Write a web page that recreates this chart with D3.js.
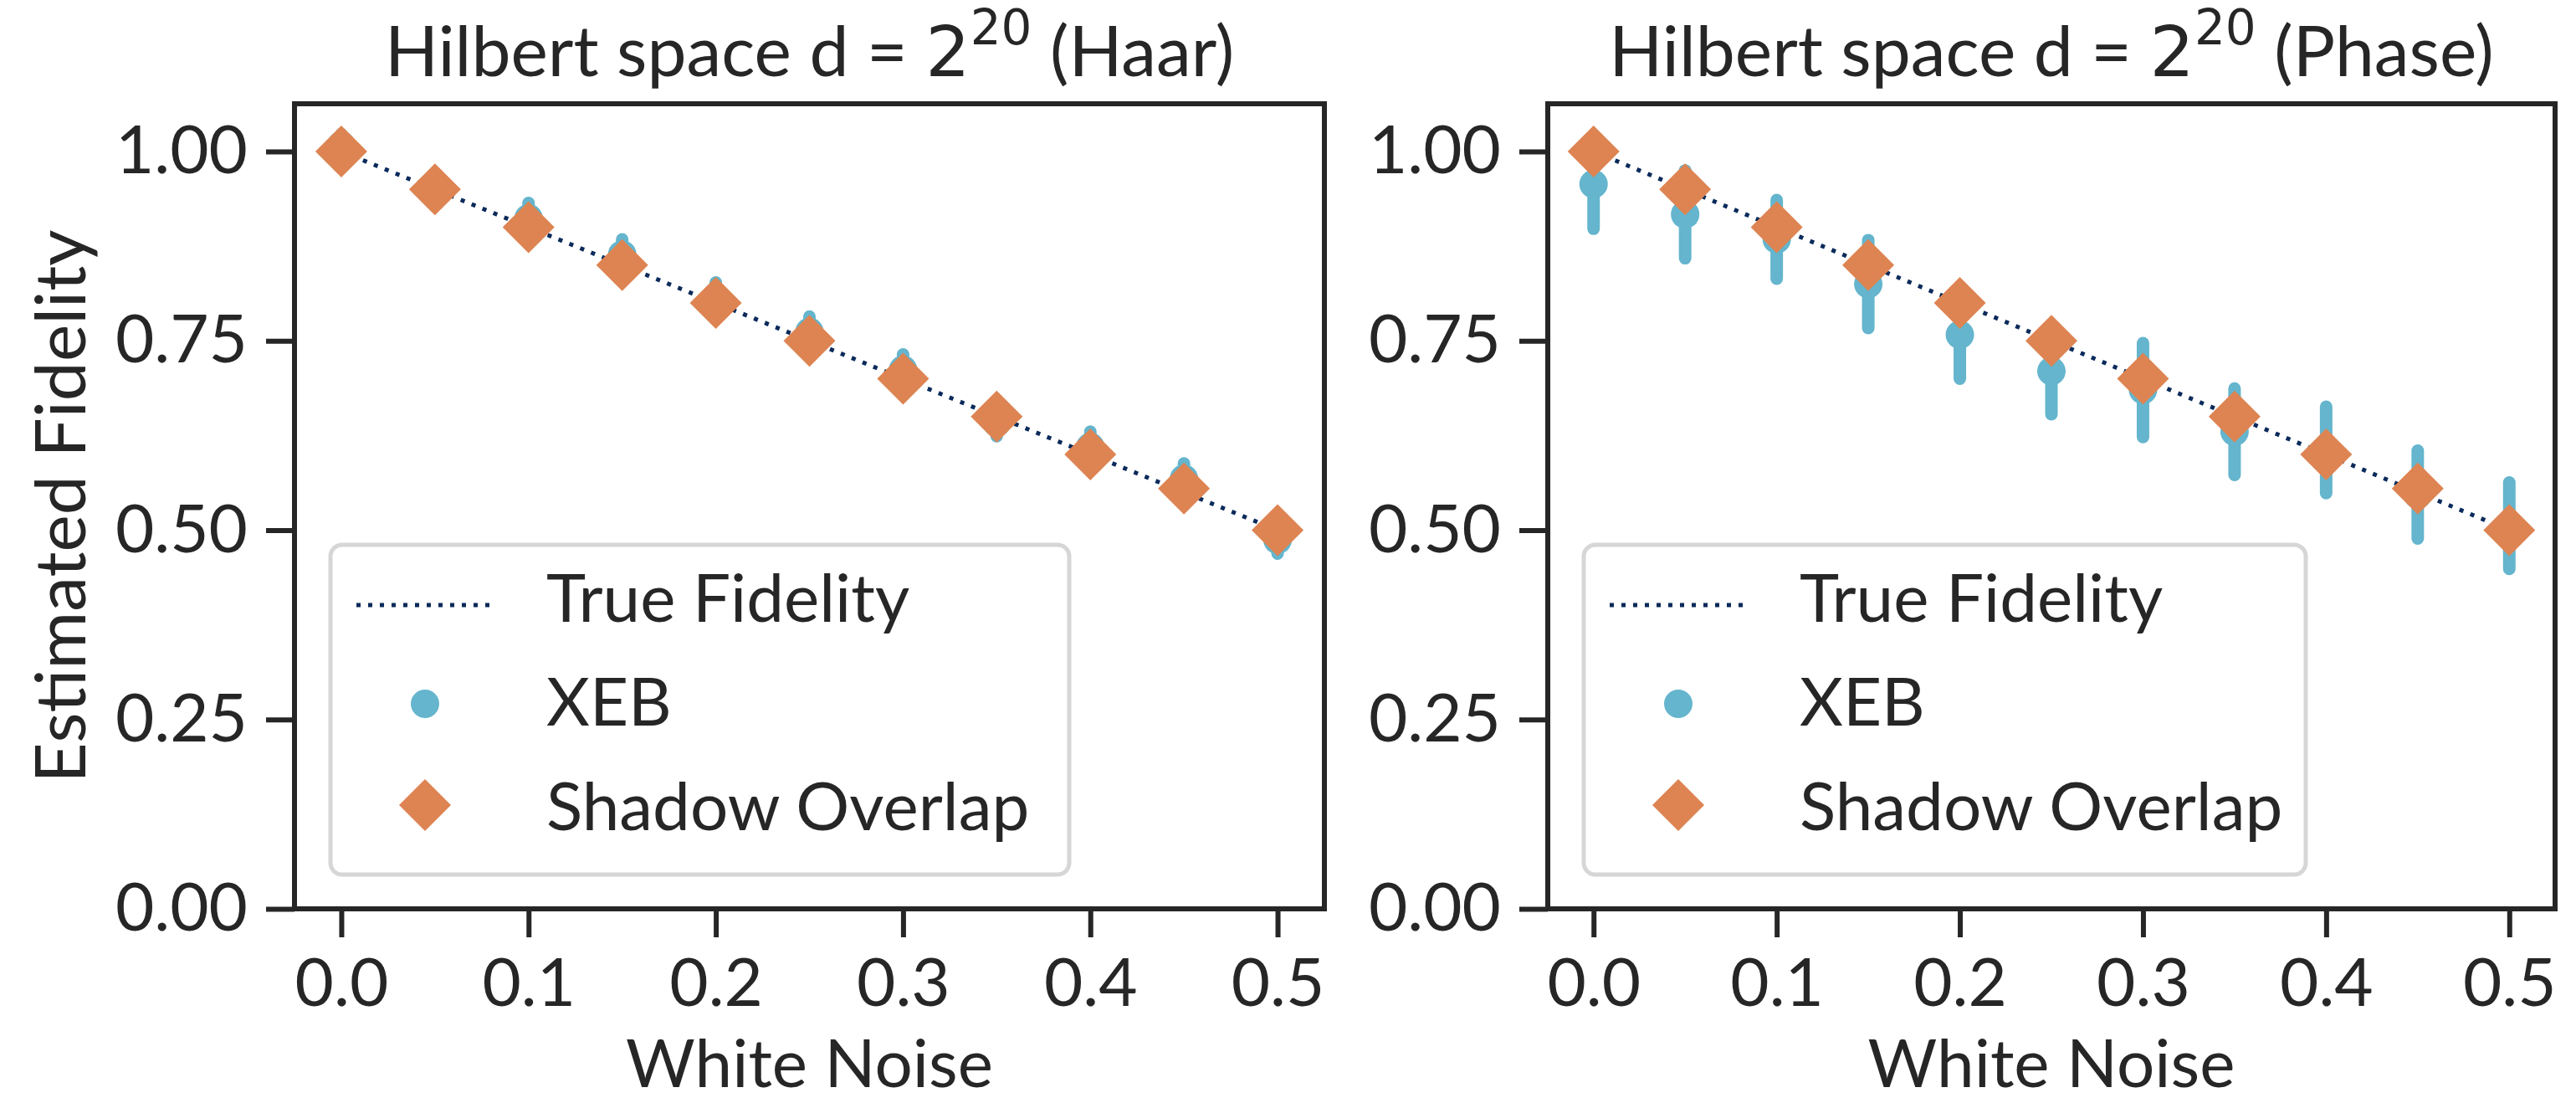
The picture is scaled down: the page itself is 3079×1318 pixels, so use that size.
<!DOCTYPE html>
<html>
<head>
<meta charset="utf-8">
<script src="https://cdn.jsdelivr.net/npm/d3@7/dist/d3.min.js"></script>
<style>
  html, body { margin: 0; padding: 0; background: #ffffff; }
  svg { display: block; }
  text { font-family: Lato, "Open Sans", sans-serif; fill: #262626; }
</style>
</head>
<body>
<svg id="chart" width="3079" height="1318"></svg>
<script>
// ---------------- data ----------------
const whiteNoise = [0.00, 0.05, 0.10, 0.15, 0.20, 0.25, 0.30, 0.35, 0.40, 0.45, 0.50];
const trueFidelity = [1.00, 0.95, 0.90, 0.85, 0.80, 0.75, 0.70, 0.65, 0.60, 0.55, 0.50];

const haarXEB      = [1.008, 0.948, 0.912, 0.864, 0.807, 0.762, 0.712, 0.642, 0.610, 0.568, 0.487];
const haarXEBErr   = [0.015, 0.018, 0.020, 0.020, 0.020, 0.020, 0.020, 0.018, 0.020, 0.020, 0.018];
const haarShadow   = [1.00, 0.95, 0.90, 0.85, 0.80, 0.75, 0.70, 0.65, 0.60, 0.555, 0.50];

const phaseXEB     = [0.957, 0.917, 0.884, 0.825, 0.758, 0.710, 0.685, 0.630, 0.606, 0.547, 0.506];
const phaseXEBErr  = [0.059, 0.058, 0.052, 0.058, 0.058, 0.057, 0.062, 0.057, 0.057, 0.058, 0.057];
const phaseShadow  = [1.00, 0.95, 0.90, 0.85, 0.80, 0.75, 0.70, 0.65, 0.60, 0.555, 0.50];

const xTickValues = [0.0, 0.1, 0.2, 0.3, 0.4, 0.5];
const yTickValues = [0.00, 0.25, 0.50, 0.75, 1.00];
const xDomain = [-0.025, 0.525];
const yDomain = [0, 1.063];

const titleParts = [
  { pre: "Hilbert space d = ", base: "2", sup: "20", post: " (Haar)" },
  { pre: "Hilbert space d = ", base: "2", sup: "20", post: " (Phase)" }
];
const xLabel = "White Noise";
const yLabel = "Estimated Fidelity";
const legendLabels = ["True Fidelity", "XEB", "Shadow Overlap"];

// ---------------- styles ----------------
const C_XEB = "#64b5cd";
const C_SHADOW = "#dd8452";
const C_LINE = "#0a2a5a";
const C_AXIS = "#262626";

const panels = [
  { x0: 352, x1: 1583, xeb: haarXEB, err: haarXEBErr, shadow: haarShadow, title: titleParts[0], legendW: 883, showY: true },
  { x0: 1850, x1: 3054, xeb: phaseXEB, err: phaseXEBErr, shadow: phaseShadow, title: titleParts[1], legendW: 863, showY: false }
];
const yTop = 124, yBot = 1086;

const svg = d3.select("#chart");

const y = d3.scaleLinear().domain(yDomain).range([yBot, yTop]);

const diamond = d3.symbol().type(d3.symbolSquare).size(2 * 31 * 31);

panels.forEach((p, pi) => {
  const x = d3.scaleLinear().domain(xDomain).range([p.x0, p.x1]);
  const g = svg.append("g");

  // axes
  const xAxis = d3.axisBottom(x).tickValues(xTickValues).tickFormat(d3.format(".1f"))
    .tickSize(34).tickPadding(25);
  const yAxis = d3.axisLeft(y).tickValues(yTickValues).tickFormat(d3.format(".2f"))
    .tickSize(34).tickPadding(22);

  const gx = g.append("g").attr("transform", `translate(0,${yBot})`).call(xAxis);
  const gy = g.append("g").attr("transform", `translate(${p.x0},0)`).call(yAxis);
  [gx, gy].forEach(a => {
    a.select(".domain").remove();
    a.selectAll(".tick line").attr("stroke", C_AXIS).attr("stroke-width", 6);
    a.selectAll(".tick text").style("font-family", "Lato, sans-serif").style("font-size", "80px").attr("fill", C_AXIS);
  });

  // True fidelity dotted line
  const line = d3.line().x((d, i) => x(whiteNoise[i])).y(d => y(d));
  g.append("path").datum(trueFidelity)
    .attr("d", line).attr("fill", "none")
    .attr("stroke", C_LINE).attr("stroke-width", 5)
    .attr("stroke-dasharray", "5 9");

  // XEB errorbars + circles
  g.selectAll(".eb").data(p.xeb).enter().append("line")
    .attr("x1", (d, i) => x(whiteNoise[i])).attr("x2", (d, i) => x(whiteNoise[i]))
    .attr("y1", (d, i) => y(d - p.err[i])).attr("y2", (d, i) => y(d + p.err[i]))
    .attr("stroke", C_XEB).attr("stroke-width", 15).attr("stroke-linecap", "round");
  g.selectAll(".pt").data(p.xeb).enter().append("circle")
    .attr("cx", (d, i) => x(whiteNoise[i])).attr("cy", d => y(d))
    .attr("r", 17).attr("fill", C_XEB);

  // Shadow overlap diamonds
  g.selectAll(".dm").data(p.shadow).enter().append("path")
    .attr("d", diamond)
    .attr("transform", (d, i) => `translate(${x(whiteNoise[i])},${y(d)}) rotate(45)`)
    .attr("fill", C_SHADOW);

  // frame
  g.append("rect").attr("x", p.x0).attr("y", yTop)
    .attr("width", p.x1 - p.x0).attr("height", yBot - yTop)
    .attr("fill", "none").attr("stroke", C_AXIS).attr("stroke-width", 6);

  // legend
  const lx = p.x0 + 43, ly = 651, lw = p.legendW, lh = 394;
  const lg = g.append("g");
  lg.append("rect").attr("x", lx).attr("y", ly).attr("width", lw).attr("height", lh)
    .attr("rx", 14).attr("ry", 14)
    .attr("fill", "#ffffff").attr("fill-opacity", 0.8)
    .attr("stroke", "#d6d6d6").attr("stroke-width", 5);
  const rowBase = [743, 867, 992];
  const hc = lx + 113;
  lg.append("line").attr("x1", lx + 31).attr("x2", lx + 195)
    .attr("y1", rowBase[0] - 20).attr("y2", rowBase[0] - 20)
    .attr("stroke", C_LINE).attr("stroke-width", 5).attr("stroke-dasharray", "5 9");
  lg.append("circle").attr("cx", hc).attr("cy", rowBase[1] - 26).attr("r", 17).attr("fill", C_XEB);
  lg.append("path").attr("d", diamond)
    .attr("transform", `translate(${hc},${rowBase[2] - 30}) rotate(45)`).attr("fill", C_SHADOW);
  legendLabels.forEach((t, i) => {
    lg.append("text").attr("x", lx + 258).attr("y", rowBase[i])
      .style("font-size", "80px").text(t);
  });

  // title
  const cx = (p.x0 + p.x1) / 2;
  const tt = g.append("text").attr("x", cx).attr("y", 91).attr("text-anchor", "middle")
    .style("font-size", "84px");
  tt.append("tspan").text(p.title.pre);
  tt.append("tspan").style("font-family", "'DejaVu Sans', sans-serif").text(p.title.base);
  tt.append("tspan").style("font-family", "'DejaVu Sans', sans-serif").style("font-size", "58px")
    .attr("dy", -38).text(p.title.sup);
  tt.append("tspan").attr("dy", 38).text(p.title.post);

  // x label
  g.append("text").attr("x", cx).attr("y", 1299).attr("text-anchor", "middle")
    .style("font-size", "80px").text(xLabel);

  if (p.showY) {
    g.append("text").attr("transform", `translate(102,${(yTop + yBot) / 2}) rotate(-90)`)
      .attr("text-anchor", "middle").style("font-size", "84px").text(yLabel);
  }
});
</script>
</body>
</html>
